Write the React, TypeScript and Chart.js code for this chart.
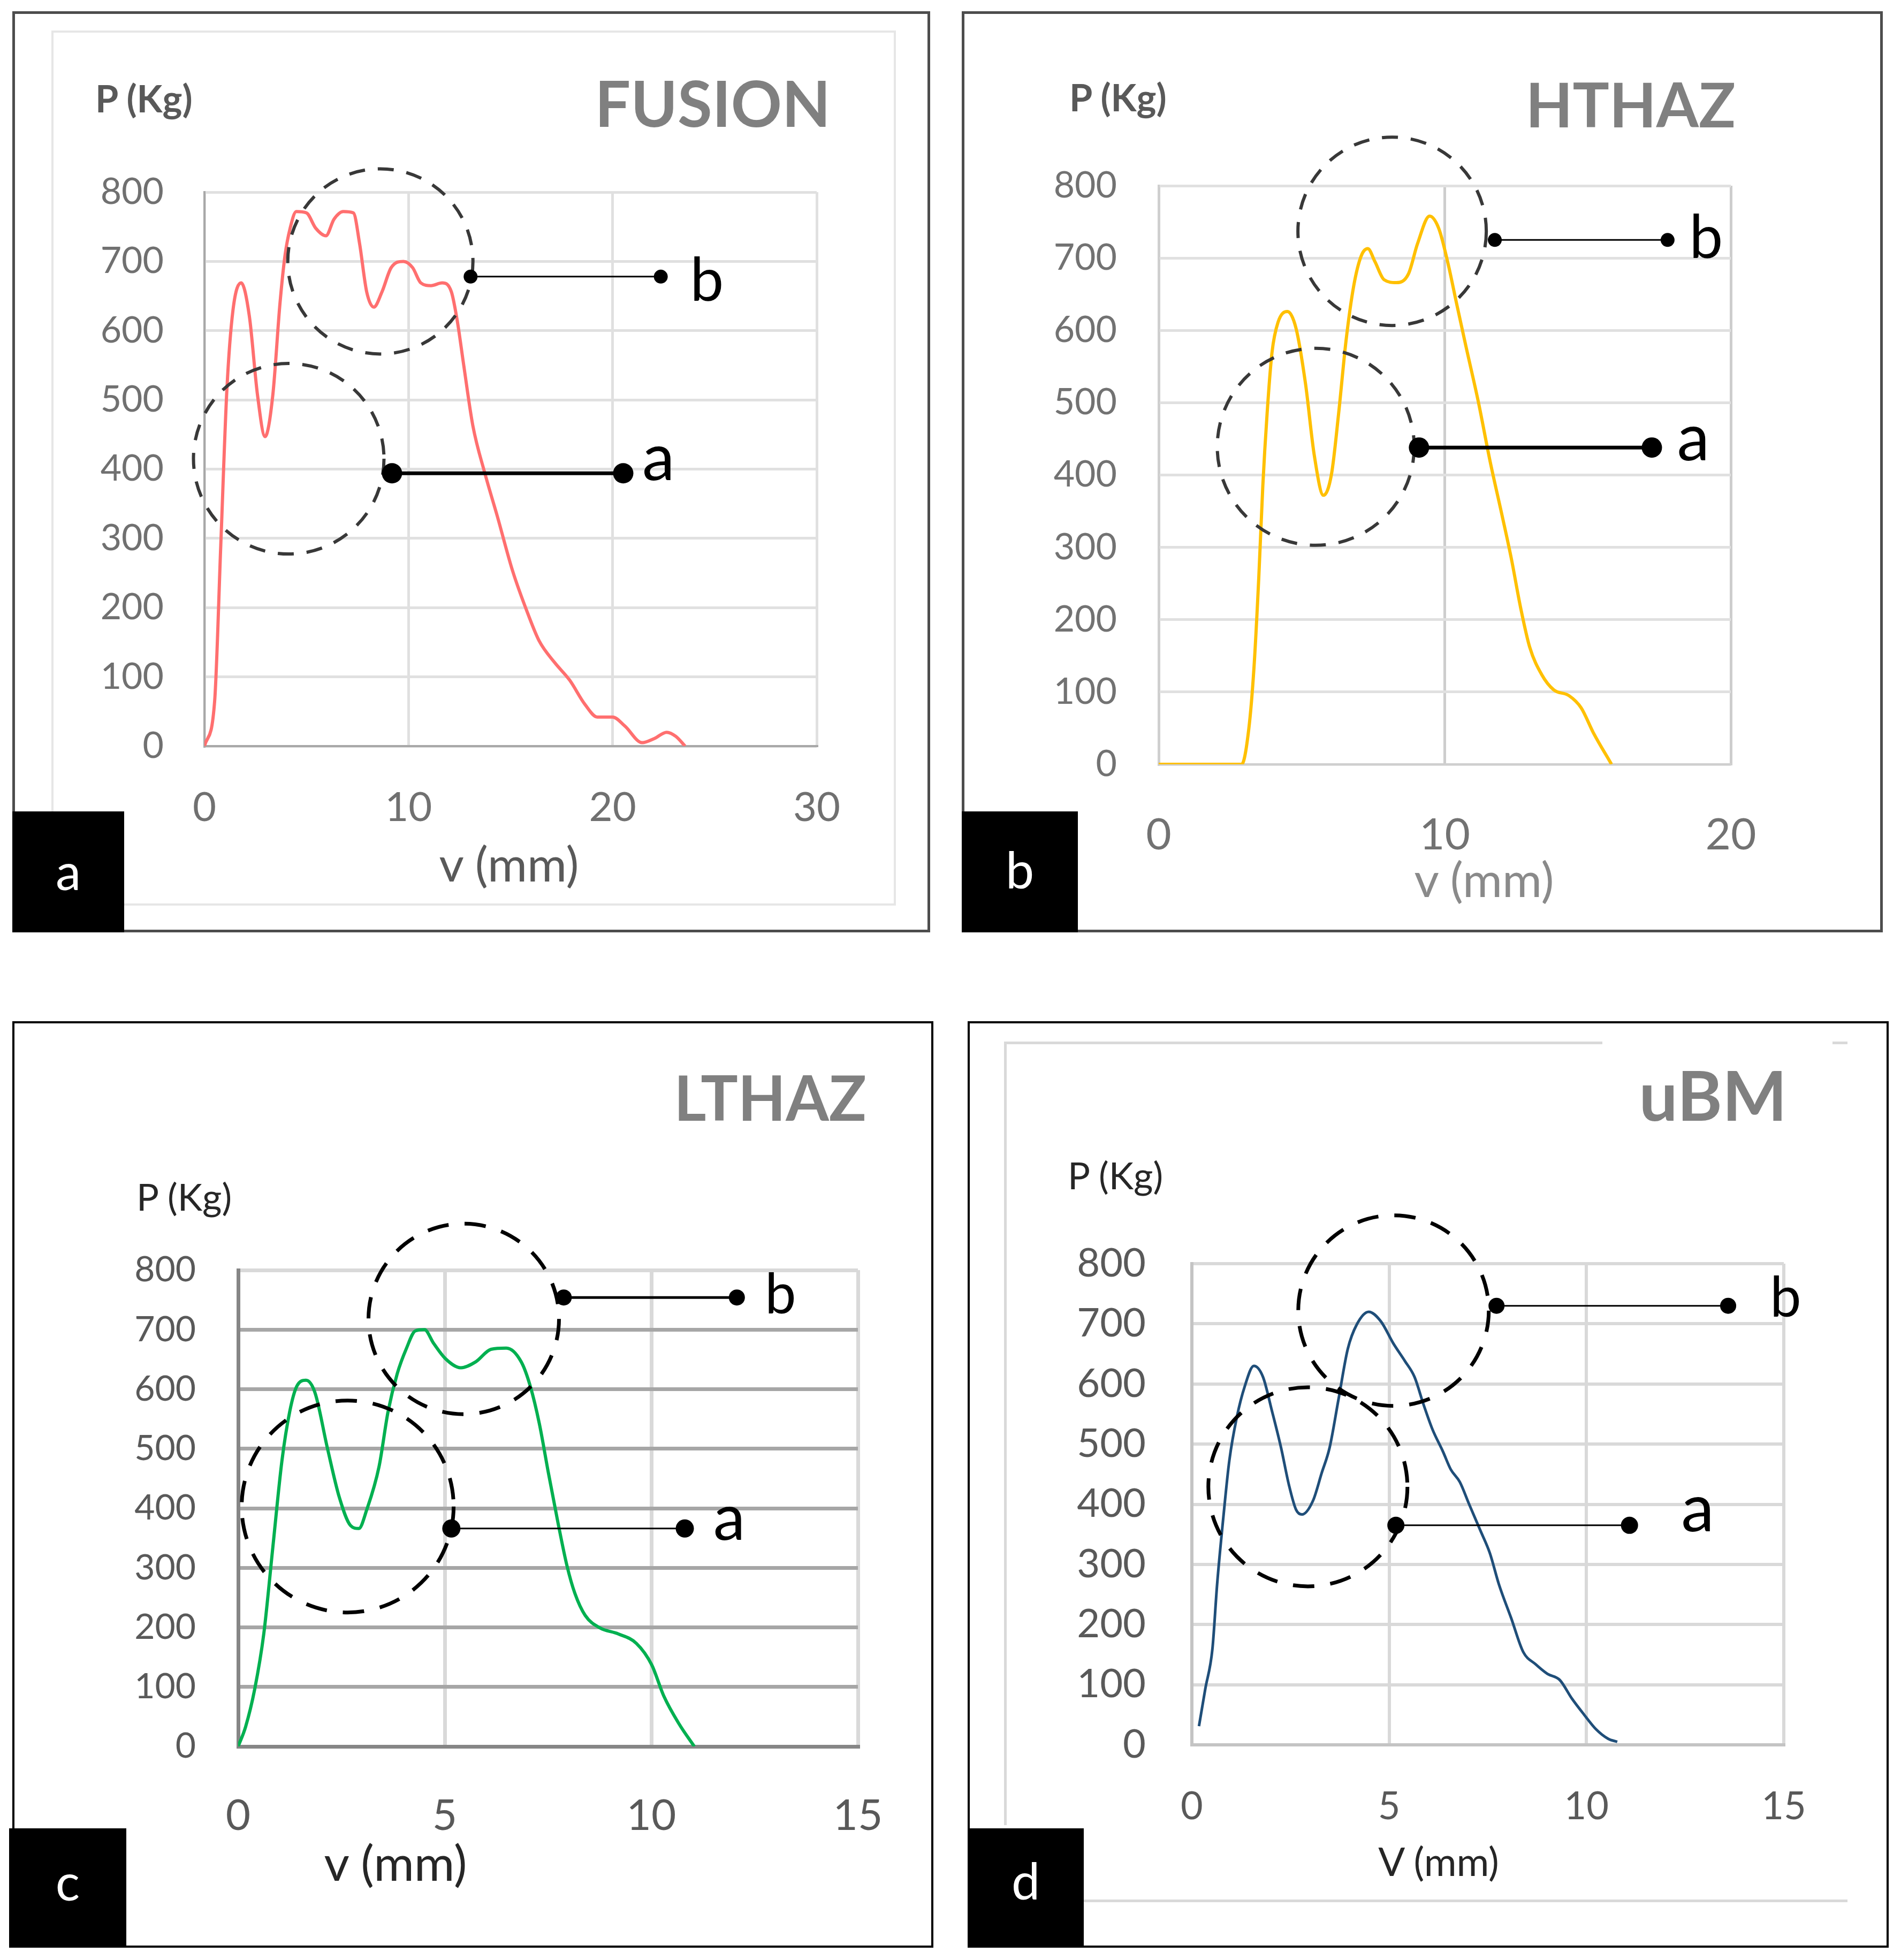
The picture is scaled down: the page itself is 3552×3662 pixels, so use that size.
import { useEffect, useRef } from "react";
import { Chart, registerables } from "chart.js";

Chart.register(...registerables);

// load axis, shared by all four panels
const loadTicks = [0, 100, 200, 300, 400, 500, 600, 700, 800];

// (a) FUSION
const fusionV = [0, 0.5, 0.8, 1.1, 1.4, 1.8, 2.2, 2.6, 2.97, 3.35, 3.7, 3.95, 4.2, 4.5, 5.0, 5.45, 5.95, 6.35, 6.8, 7.3, 7.6, 7.95, 8.3, 8.7, 9.15, 9.75, 10.2, 10.6, 11.1, 11.65, 12.1, 12.4, 12.7, 13.15, 13.75, 14.35, 15.1, 15.85, 16.4, 17.15, 17.9, 18.65, 19.25, 20.0, 20.6, 21.45, 22.05, 22.65, 23.1, 23.55];
const fusionP = [0, 65, 290, 515, 630, 669, 621, 507, 447, 507, 639, 709, 748, 772, 770, 748, 737, 761, 772, 770, 726, 656, 634, 656, 691, 700, 691, 669, 665, 669, 656, 612, 551, 463, 393, 332, 253, 191, 152, 121, 95, 60, 42, 42, 29, 5, 11, 20, 14, 0];
const fusionTicks = [0, 10, 20, 30];

// (b) HTHAZ
const hthazV = [0, 2.9, 3.15, 3.33, 3.5, 3.64, 3.79, 3.96, 4.17, 4.5, 4.8, 5.13, 5.44, 5.76, 6.04, 6.29, 6.55, 6.82, 7.08, 7.31, 7.56, 7.88, 8.31, 8.73, 9.05, 9.47, 9.79, 10.1, 10.42, 10.74, 11.17, 11.59, 12.01, 12.33, 12.65, 12.97, 13.39, 13.81, 14.34, 14.77, 15.19, 15.83];
const hthazP = [0, 0, 49, 133, 259, 385, 485, 569, 611, 626, 603, 527, 427, 372, 401, 485, 586, 662, 703, 713, 695, 670, 666, 678, 720, 758, 741, 695, 636, 578, 502, 418, 343, 284, 217, 162, 124, 103, 95, 78, 44, 0];
const hthazTicks = [0, 10, 20];

// (c) LTHAZ
const lthazV = [0, 0.18, 0.4, 0.62, 0.84, 1.06, 1.25, 1.42, 1.64, 1.86, 2.16, 2.45, 2.72, 2.92, 3.11, 3.41, 3.63, 3.85, 4.07, 4.29, 4.51, 4.73, 5.02, 5.39, 5.75, 6.12, 6.49, 6.85, 7.07, 7.29, 7.51, 7.74, 7.96, 8.15, 8.4, 8.76, 9.2, 9.64, 10.01, 10.3, 10.67, 11.04];
const lthazP = [0, 33, 96, 189, 335, 480, 563, 605, 615, 594, 501, 418, 371, 366, 397, 470, 563, 626, 668, 698, 700, 677, 651, 636, 646, 667, 669, 646, 605, 542, 459, 376, 303, 257, 220, 199, 189, 173, 137, 85, 38, 0];
const lthazTicks = [0, 5, 10, 15];

// (d) uBM
const ubmV = [0.18, 0.34, 0.52, 0.64, 0.8, 0.95, 1.14, 1.34, 1.57, 1.8, 2.03, 2.26, 2.46, 2.64, 2.79, 3.07, 3.29, 3.49, 3.72, 3.95, 4.18, 4.48, 4.79, 5.1, 5.4, 5.64, 5.87, 6.1, 6.36, 6.56, 6.79, 7.02, 7.32, 7.55, 7.78, 8.09, 8.4, 8.71, 9.01, 9.32, 9.63, 9.93, 10.24, 10.55, 10.78];
const ubmP = [31, 93, 159, 267, 380, 473, 545, 596, 630, 612, 555, 494, 432, 391, 383, 406, 452, 494, 576, 658, 699, 720, 704, 668, 638, 612, 566, 524, 488, 458, 437, 401, 355, 319, 267, 211, 154, 134, 118, 108, 77, 51, 26, 10, 5];
const ubmTicks = [0, 5, 10, 15];

type Circle = { x: number; y: number; r: number };
type Leader = { x1: number; x2: number; y: number; w: number; dot: number };
type Mark = { text: string; x: number; y: number; size: number };

type Panel = {
  box: number[]; // left, top, right, bottom (page px)
  plot: number[]; // left, top, right, bottom (page px)
  xs: number[];
  ys: number[];
  xTicks: number[];
  line: string;
  lineWidth: number;
  gridX: string;
  gridY: string;
  gridTop: string;
  gridWidth: number;
  axis: string;
  axisWidth: number;
  tickColor: string;
  yTickSize: number;
  xTickSize: number;
  yPad: number;
  xPad: number;
  circles: Circle[];
  circleColor: string;
  circleWidth: number;
  dash: number[];
  leaders: Leader[];
  marks: Mark[];
};

const panels: Panel[] = [
  {
    box: [23, 21, 1738, 1742],
    plot: [382, 359, 1526, 1394],
    xs: fusionV, ys: fusionP, xTicks: fusionTicks,
    line: "#ff6f6f", lineWidth: 6,
    gridX: "#e0e0e0", gridY: "#e0e0e0", gridTop: "#e0e0e0", gridWidth: 5,
    axis: "#a8a8a8", axisWidth: 4,
    tickColor: "#707070", yTickSize: 68, xTickSize: 76, yPad: 76, xPad: 70,
    circles: [{ x: 8.62, y: 700, r: 173 }, { x: 4.13, y: 415, r: 178 }],
    circleColor: "#383838", circleWidth: 6, dash: [30, 24],
    leaders: [{ x1: 13.04, x2: 22.36, y: 678, w: 3, dot: 13 }, { x1: 9.19, x2: 20.52, y: 394, w: 7, dot: 19 }],
    marks: [{ text: "b", x: 23.8, y: 643, size: 112 }, { text: "a", x: 21.45, y: 384, size: 122 }],
  },
  {
    box: [1797, 21, 3518, 1742],
    plot: [2165, 347, 3234, 1428],
    xs: hthazV, ys: hthazP, xTicks: hthazTicks,
    line: "#ffc000", lineWidth: 6,
    gridX: "#cdcdcd", gridY: "#e0e0e0", gridTop: "#e0e0e0", gridWidth: 5,
    axis: "#cfcfcf", axisWidth: 4,
    tickColor: "#727272", yTickSize: 68, xTickSize: 82, yPad: 78, xPad: 83,
    circles: [{ x: 8.16, y: 737, r: 176 }, { x: 5.49, y: 439, r: 184 }],
    circleColor: "#383838", circleWidth: 6, dash: [30, 24],
    leaders: [{ x1: 11.75, x2: 17.79, y: 725, w: 3, dot: 13 }, { x1: 9.1, x2: 17.24, y: 438, w: 7, dot: 19 }],
    marks: [{ text: "b", x: 18.55, y: 700, size: 112 }, { text: "a", x: 18.12, y: 420, size: 122 }],
  },
  {
    box: [23, 1908, 1744, 3639],
    plot: [445, 2373, 1603, 3263],
    xs: lthazV, ys: lthazP, xTicks: lthazTicks,
    line: "#00b050", lineWidth: 6,
    gridX: "#d9d9d9", gridY: "#a6a6a6", gridTop: "#d9d9d9", gridWidth: 7,
    axis: "#868686", axisWidth: 7,
    tickColor: "#595959", yTickSize: 66, xTickSize: 80, yPad: 79, xPad: 82,
    circles: [{ x: 5.46, y: 718, r: 178 }, { x: 2.65, y: 403, r: 198 }],
    circleColor: "#000", circleWidth: 7, dash: [40, 30],
    leaders: [{ x1: 7.88, x2: 12.07, y: 754, w: 5, dot: 15 }, { x1: 5.16, x2: 10.81, y: 366, w: 3, dot: 17 }],
    marks: [{ text: "b", x: 12.75, y: 727, size: 104 }, { text: "a", x: 11.5, y: 347, size: 120 }],
  },
  {
    box: [1808, 1908, 3529, 3639],
    plot: [2227, 2361, 3333, 3260],
    xs: ubmV, ys: ubmP, xTicks: ubmTicks,
    line: "#1f4e79", lineWidth: 5,
    gridX: "#d9d9d9", gridY: "#d9d9d9", gridTop: "#d9d9d9", gridWidth: 6,
    axis: "#c4c4c4", axisWidth: 6,
    tickColor: "#595959", yTickSize: 74, xTickSize: 72, yPad: 86, xPad: 73,
    circles: [{ x: 5.11, y: 722, r: 178 }, { x: 2.94, y: 429, r: 186 }],
    circleColor: "#000", circleWidth: 7, dash: [40, 30],
    leaders: [{ x1: 7.72, x2: 13.59, y: 730, w: 3, dot: 15 }, { x1: 5.17, x2: 11.09, y: 365, w: 3, dot: 16 }],
    marks: [{ text: "b", x: 14.65, y: 712, size: 104 }, { text: "a", x: 12.4, y: 355, size: 124 }],
  },
];

function annotations(p: Panel) {
  return {
    id: "annotations",
    afterDatasetsDraw(chart: any) {
      const { ctx } = chart;
      const sx = chart.scales.x;
      const sy = chart.scales.y;
      ctx.save();
      ctx.strokeStyle = p.circleColor;
      ctx.lineWidth = p.circleWidth;
      ctx.setLineDash(p.dash);
      for (const c of p.circles) {
        ctx.beginPath();
        ctx.arc(sx.getPixelForValue(c.x), sy.getPixelForValue(c.y), c.r, 0, Math.PI * 2);
        ctx.stroke();
      }
      ctx.setLineDash([]);
      ctx.strokeStyle = "#000";
      ctx.fillStyle = "#000";
      for (const l of p.leaders) {
        const x1 = sx.getPixelForValue(l.x1);
        const x2 = sx.getPixelForValue(l.x2);
        const y = sy.getPixelForValue(l.y);
        ctx.lineWidth = l.w;
        ctx.beginPath();
        ctx.moveTo(x1, y);
        ctx.lineTo(x2, y);
        ctx.stroke();
        for (const x of [x1, x2]) {
          ctx.beginPath();
          ctx.arc(x, y, l.dot, 0, Math.PI * 2);
          ctx.fill();
        }
      }
      ctx.textAlign = "left";
      ctx.textBaseline = "alphabetic";
      for (const m of p.marks) {
        ctx.font = `${m.size}px Lato`;
        ctx.fillText(m.text, sx.getPixelForValue(m.x), sy.getPixelForValue(m.y));
      }
      ctx.restore();
    },
  };
}

function PanelChart({ p }: { p: Panel }) {
  const ref = useRef<HTMLCanvasElement>(null);
  const [bl, bt, br, bb] = p.box;
  const [pl, pt, pr, pb] = p.plot;

  useEffect(() => {
    const ctx = ref.current?.getContext("2d");
    if (!ctx) return;
    const chart = new Chart(ctx, {
      type: "line",
      data: {
        datasets: [
          {
            data: p.xs.map((x, i) => ({ x, y: p.ys[i] })),
            borderColor: p.line,
            borderWidth: p.lineWidth,
            pointRadius: 0,
            cubicInterpolationMode: "monotone",
            fill: false,
          },
        ],
      },
      options: {
        animation: false,
        responsive: false,
        devicePixelRatio: 1,
        layout: { padding: { left: 0, bottom: 0, top: pt - bt, right: br - pr } },
        plugins: { legend: { display: false }, tooltip: { enabled: false } },
        scales: {
          x: {
            type: "linear",
            min: 0,
            max: p.xTicks[p.xTicks.length - 1],
            afterBuildTicks: (s: any) => {
              s.ticks = p.xTicks.map((value) => ({ value }));
            },
            afterFit: (s: any) => {
              s.height = bb - pb;
            },
            grid: { color: p.gridX, lineWidth: p.gridWidth, drawTicks: false },
            border: { color: p.axis, width: p.axisWidth },
            ticks: {
              padding: p.xPad,
              color: p.tickColor,
              font: { family: "Lato", size: p.xTickSize },
              maxRotation: 0,
              autoSkip: false,
            },
          },
          y: {
            min: 0,
            max: 800,
            afterBuildTicks: (s: any) => {
              s.ticks = loadTicks.map((value) => ({ value }));
            },
            afterFit: (s: any) => {
              s.width = pl - bl;
            },
            grid: {
              color: (c: any) => (c.tick && c.tick.value === 800 ? p.gridTop : p.gridY),
              lineWidth: p.gridWidth,
              drawTicks: false,
            },
            border: { color: p.axis, width: p.axisWidth },
            ticks: {
              padding: p.yPad,
              color: p.tickColor,
              font: { family: "Lato", size: p.yTickSize },
              autoSkip: false,
            },
          },
        },
      } as any,
      plugins: [annotations(p)],
    });
    return () => chart.destroy();
  }, [p]);

  return (
    <canvas
      ref={ref}
      width={br - bl}
      height={bb - bt}
      style={{ position: "absolute", left: bl, top: bt, width: br - bl, height: bb - bt }}
    />
  );
}

function Text(props: {
  x: number;
  y: number;
  size: number;
  align?: "left" | "center" | "right";
  weight?: number;
  color: string;
  children: string;
}) {
  const { x, y, size, align = "left", weight = 400, color, children } = props;
  const shift = align === "right" ? "-100%" : align === "center" ? "-50%" : "0";
  return (
    <div
      style={{
        position: "absolute",
        left: x,
        top: y - 0.887 * size,
        fontFamily: "Lato",
        fontSize: size,
        lineHeight: `${size}px`,
        fontWeight: weight,
        color,
        whiteSpace: "nowrap",
        transform: `translateX(${shift})`,
      }}
    >
      {children}
    </div>
  );
}

function Rect(props: { l: number; t: number; w: number; h: number; style: any }) {
  return (
    <div
      style={{
        position: "absolute",
        left: props.l,
        top: props.t,
        width: props.w,
        height: props.h,
        boxSizing: "border-box",
        ...props.style,
      }}
    />
  );
}

function Tag({ l, t, r, b, letter, base }: { l: number; t: number; r: number; b: number; letter: string; base: number }) {
  return (
    <>
      <Rect l={l} t={t} w={r - l} h={b - t} style={{ background: "#000" }} />
      <Text x={(l + r) / 2} y={base} size={95} align="center" color="#fff">
        {letter}
      </Text>
    </>
  );
}

export default function App() {
  return (
    <div style={{ position: "absolute", left: 0, top: 0, width: 3552, height: 3662, background: "#fff", overflow: "hidden" }}>
      {/* chart-area frames */}
      <Rect l={96} t={57} w={1578} h={1635} style={{ border: "4px solid #e6e6e6" }} />
      <Rect l={1878} t={1946} w={1116} h={5} style={{ background: "#d9d9d9" }} />
      <Rect l={3424} t={1946} w={28} h={5} style={{ background: "#d9d9d9" }} />
      <Rect l={1876} t={1946} w={5} h={1464} style={{ background: "#d9d9d9" }} />
      <Rect l={2025} t={3549} w={1427} h={5} style={{ background: "#d9d9d9" }} />

      {panels.map((p, i) => (
        <PanelChart key={i} p={p} />
      ))}

      {/* panel borders */}
      <Rect l={23} t={21} w={1715} h={1721} style={{ border: "5px solid #4d4d4d" }} />
      <Rect l={1797} t={21} w={1721} h={1721} style={{ border: "5px solid #4d4d4d" }} />
      <Rect l={23} t={1908} w={1721} h={1731} style={{ border: "4px solid #000" }} />
      <Rect l={1808} t={1908} w={1721} h={1731} style={{ border: "4px solid #000" }} />

      {/* (a) */}
      <Text x={1552} y={238} size={118} align="right" weight={700} color="#808080">FUSION</Text>
      <Text x={178} y={210} size={70} weight={700} color="#595959">P (Kg)</Text>
      <Text x={951} y={1647} size={90} align="center" color="#595959">v (mm)</Text>
      <Tag l={23} t={1516} r={232} b={1742} letter="a" base={1663} />

      {/* (b) */}
      <Text x={3243} y={238} size={114} align="right" weight={700} color="#808080">HTHAZ</Text>
      <Text x={1998} y={208} size={70} weight={700} color="#595959">P (Kg)</Text>
      <Text x={2773} y={1676} size={90} align="center" color="#8a8a8a">v (mm)</Text>
      <Tag l={1797} t={1516} r={2014} b={1742} letter="b" base={1660} />

      {/* (c) */}
      <Text x={1619} y={2095} size={116} align="right" weight={700} color="#808080">LTHAZ</Text>
      <Text x={255} y={2262} size={70} color="#262626">P (Kg)</Text>
      <Text x={739} y={3515} size={92} align="center" color="#262626">v (mm)</Text>
      <Tag l={17} t={3416} r={236} b={3639} letter="c" base={3551} />

      {/* (d) */}
      <Text x={3339} y={2095} size={128} align="right" weight={700} color="#808080">uBM</Text>
      <Text x={1995} y={2222} size={70} color="#262626">P (Kg)</Text>
      <Text x={2688} y={3506} size={74} align="center" color="#262626">V (mm)</Text>
      <Tag l={1808} t={3416} r={2025} b={3639} letter="d" base={3549} />
    </div>
  );
}
